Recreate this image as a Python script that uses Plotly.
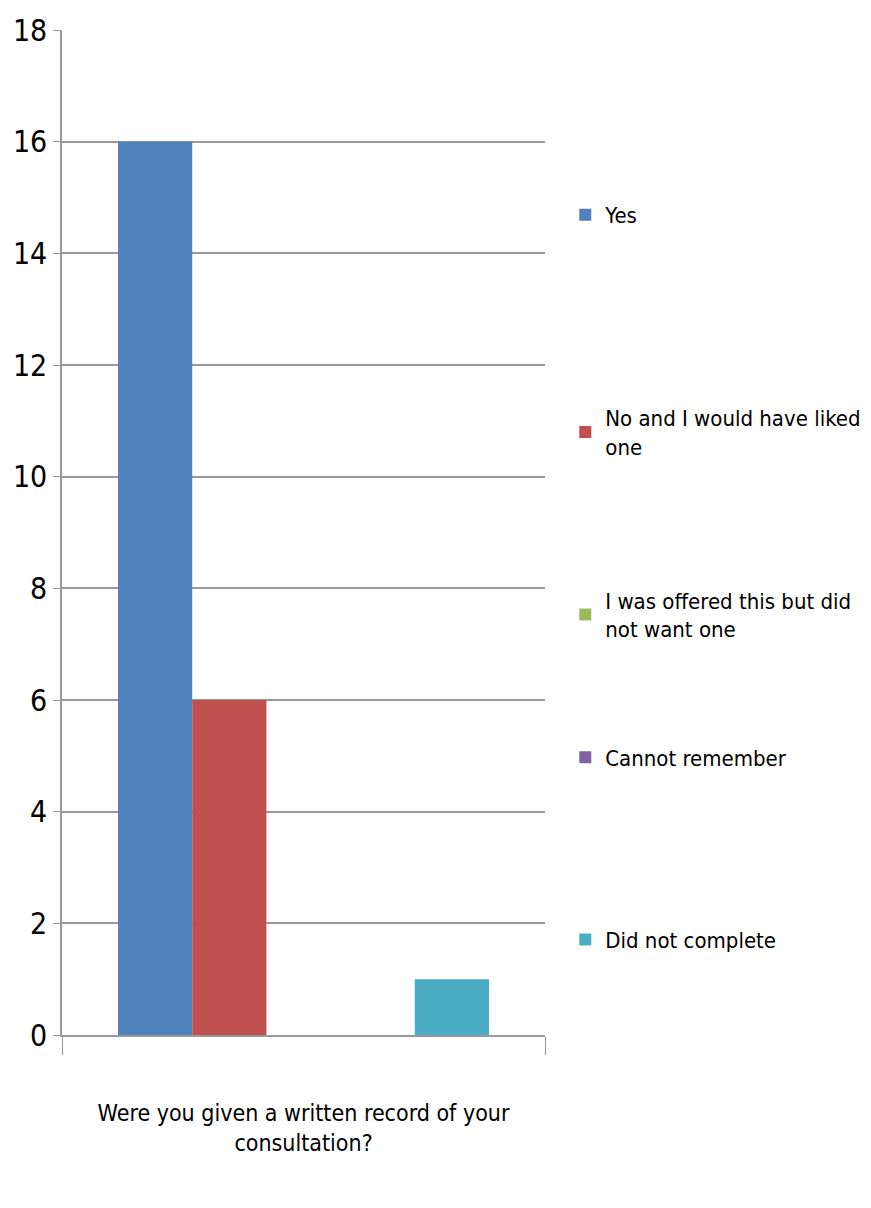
import plotly.graph_objects as go

category = ["Were you given a written record of your<br>consultation?"]
series_names = ["Yes", "No and I would have liked<br>one", "I was offered this but did<br>not want one",
                "Cannot remember", "Did not complete"]
series_values = [[16], [6], [0], [0], [1]]
series_colors = ["#4F81BD", "#C0504D", "#9BBB59", "#8064A2", "#4BACC6"]
legend_y = [0.822, 0.642, 0.491, 0.373, 0.222]
y_ticks = [0, 2, 4, 6, 8, 10, 12, 14, 16, 18]

FONT = "DejaVu Sans Condensed, sans-serif"

fig = go.Figure()
for i, (name, vals, col) in enumerate(zip(series_names, series_values, series_colors)):
    fig.add_trace(go.Bar(x=category, y=vals, name=name, marker_color=col,
                         marker_line_width=0,
                         legend="legend" if i == 0 else f"legend{i+1}"))

layout_legends = {}
for i, ly in enumerate(legend_y):
    key = "legend" if i == 0 else f"legend{i+1}"
    layout_legends[key] = dict(x=0.649, y=ly, xanchor="left", yanchor="middle",
                               xref="container", yref="container",
                               font=dict(family=FONT, size=22, color="#000"),
                               bgcolor="rgba(0,0,0,0)", itemwidth=30)

fig.update_layout(
    width=871, height=1208,
    margin=dict(l=62, r=326, t=30, b=173),
    paper_bgcolor="white", plot_bgcolor="white",
    barmode="group", bargap=0.232, bargroupgap=0,
    font=dict(family=FONT, size=22, color="#000"),
    showlegend=True,
    xaxis=dict(type="category", showline=True, linecolor="#999", linewidth=2,
               ticks="outside", tickson="boundaries", ticklen=18, tickcolor="#999",
               tickangle=0, automargin=False, ticklabelstandoff=56,
               tickfont=dict(family=FONT, size=23, color="#000"), showgrid=False),
    yaxis=dict(range=[0, 18], tickvals=y_ticks, showline=True, linecolor="#999", linewidth=1.5,
               ticks="outside", ticklen=7, tickcolor="#999", showgrid=True,
               gridcolor="#999", gridwidth=2, zeroline=False, automargin=False,
               tickfont=dict(family=FONT, size=30, color="#000")),
    **layout_legends,
)

fig.write_html("out.html")
